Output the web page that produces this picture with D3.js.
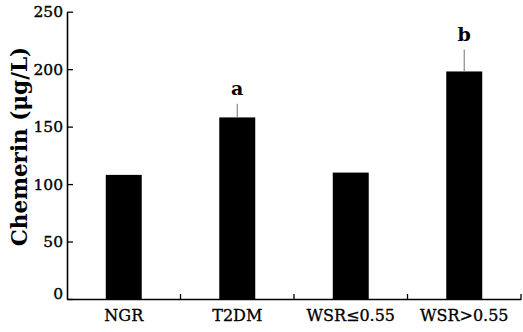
<!DOCTYPE html>
<html><head><meta charset="utf-8">
<script src="https://cdn.jsdelivr.net/npm/d3@7"></script>
<style>body{margin:0;background:#fff}</style>
</head><body>
<svg id="c" width="523" height="332"></svg>
<script>
const categories = ["NGR", "T2DM", "WSR\u22640.55", "WSR>0.55"];
const means = [108, 158, 110, 198];
const errTop = [null, 170, null, 217];
const sigLabels = ["", "a", "", "b"];
const yTicks = [0, 50, 100, 150, 200, 250];

const svg = d3.select("#c");
const L = 67, R = 521, T = 11.7, B = 299;
const x = d3.scaleBand().domain(categories).range([L, R]).padding(0);
const y = d3.scaleLinear().domain([0, 250]).range([B, T]);
const barW = x.bandwidth() * 0.317;
const serif = "DejaVu Serif";

// bars
svg.selectAll("rect.bar").data(categories).join("rect")
  .attr("x", d => x(d) + x.bandwidth()/2 - barW/2)
  .attr("y", (d,i) => y(means[i]))
  .attr("width", barW)
  .attr("height", (d,i) => y(0) - y(means[i]))
  .attr("fill", "#000");

// error bars
categories.forEach((d,i) => {
  if (errTop[i] == null) return;
  const cx = x(d) + x.bandwidth()/2;
  svg.append("line").attr("x1", cx).attr("x2", cx)
    .attr("y1", y(means[i])).attr("y2", y(errTop[i]))
    .attr("stroke", "#888").attr("stroke-width", 1.2);
  svg.append("text").attr("x", cx).attr("y", y(errTop[i]) - 8.5)
    .attr("text-anchor", "middle").attr("font-family", serif)
    .attr("font-weight", "bold").attr("font-size", 19).text(sigLabels[i]);
});

// y axis
const yAxis = svg.append("g").attr("transform", `translate(${L},0)`)
  .call(d3.axisLeft(y).tickValues(yTicks).tickSize(-6).tickPadding(4).tickSizeOuter(0));
yAxis.select(".domain").attr("stroke-width", 1.6);
yAxis.selectAll(".tick line").attr("stroke-width", 1.3);
yAxis.selectAll("text").attr("font-family", serif).attr("font-size", 15.5).attr("fill", "#000")
  .attr("stroke", "#000").attr("stroke-width", 0.35)
  .attr("dy", d => d === 0 ? "-0.05em" : "0.32em");

// x axis
const xAxis = svg.append("g").attr("transform", `translate(0,${B})`)
  .call(d3.axisBottom(x).tickSize(0).tickPadding(11).tickSizeOuter(0));
xAxis.select(".domain").attr("stroke-width", 1.6);
xAxis.selectAll("text").attr("font-family", serif).attr("font-size", 16).attr("fill", "#000")
  .attr("stroke", "#000").attr("stroke-width", 0.3);
svg.append("g").selectAll("line").data(categories).join("line")
  .attr("x1", d => x(d) + x.step()).attr("x2", d => x(d) + x.step())
  .attr("y1", B).attr("y2", B - 5).attr("stroke", "#000").attr("stroke-width", 1.3);

// y title
svg.append("text").attr("transform", "translate(27,146.5) rotate(-90)")
  .attr("text-anchor", "middle").attr("font-family", serif)
  .attr("font-weight", "bold").attr("font-size", 21.5).text("Chemerin (\u03bcg/L)");
</script>
</body></html>
